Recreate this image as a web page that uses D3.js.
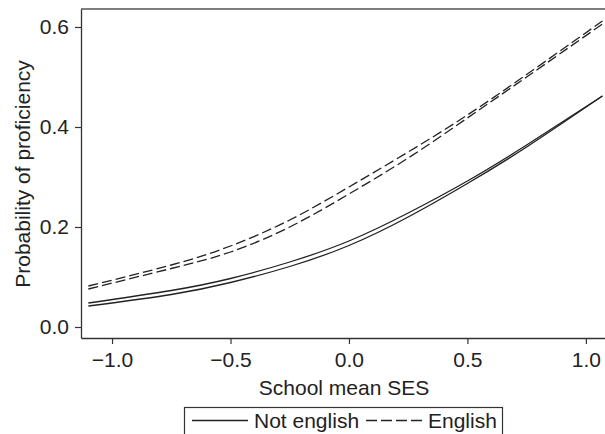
<!DOCTYPE html>
<html>
<head>
<meta charset="utf-8">
<script src="https://cdn.jsdelivr.net/npm/d3@7"></script>
<style>
  body { margin: 0; background: #fff; }
  svg { font-family: "Liberation Sans", Arial, sans-serif; }
</style>
</head>
<body>
<svg></svg>
<script>
const width = 605;
const height = 434;

// school mean SES sample points
const ses = [-1.1, -0.75, -0.5, -0.25, 0, 0.25, 0.5, 0.75, 1.07];
const notEnglishA = [0.048, 0.073, 0.097, 0.130, 0.172, 0.228, 0.292, 0.364, 0.462];
const notEnglishB = [0.042, 0.065, 0.089, 0.121, 0.163, 0.220, 0.287, 0.360, 0.462];
const englishA = [0.082, 0.124, 0.162, 0.214, 0.280, 0.350, 0.424, 0.505, 0.612];
const englishB = [0.076, 0.117, 0.150, 0.200, 0.266, 0.338, 0.418, 0.500, 0.606];

const xTicks = [-1.0, -0.5, 0.0, 0.5, 1.0];
const yTicks = [0.0, 0.2, 0.4, 0.6];

const series = [
    { name: 'Not english', values: notEnglishA, dashed: false },
    { name: 'Not english', values: notEnglishB, dashed: false },
    { name: 'English', values: englishA, dashed: true },
    { name: 'English', values: englishB, dashed: true }
];

const plotLeft = 81, plotRight = 606, plotTop = 9, plotBottom = 338;
const fontSize = '21px';

const xScale = d3.scaleLinear()
    .domain([-1.131, 1.085])
    .range([plotLeft, plotRight]);

const yScale = d3.scaleLinear()
    .domain([-0.022, 0.636])
    .range([plotBottom, plotTop]);

const fmt = d => (d < 0 ? '\u2212' : '') + d3.format('.1f')(Math.abs(d));

const svg = d3.select('svg')
    .attr('width', width)
    .attr('height', height);

// top border
svg.append('line')
    .attr('x1', plotLeft).attr('x2', plotRight)
    .attr('y1', plotTop).attr('y2', plotTop)
    .attr('stroke', '#555').attr('stroke-width', 1.3);

const xAxis = d3.axisBottom(xScale)
    .tickValues(xTicks)
    .tickFormat(fmt)
    .tickSize(6)
    .tickSizeOuter(0)
    .tickPadding(8);

const yAxis = d3.axisLeft(yScale)
    .tickValues(yTicks)
    .tickFormat(fmt)
    .tickSize(6)
    .tickSizeOuter(0)
    .tickPadding(6);

const gx = svg.append('g')
    .attr('transform', 'translate(0,' + plotBottom + ')')
    .call(xAxis);

const gy = svg.append('g')
    .attr('transform', 'translate(' + plotLeft + ',0)')
    .call(yAxis);

[gx, gy].forEach(g => {
    g.select('.domain').attr('stroke', '#333').attr('stroke-width', 1.3);
    g.selectAll('.tick line').attr('stroke', '#333').attr('stroke-width', 1.2);
    g.selectAll('.tick text').attr('fill', '#222').style('font-size', fontSize);
});

const line = d3.line()
    .x((d, i) => xScale(ses[i]))
    .y(d => yScale(d))
    .curve(d3.curveNatural);

svg.selectAll('path.series')
    .data(series)
    .enter()
    .append('path')
    .attr('class', 'series')
    .attr('d', d => line(d.values))
    .attr('fill', 'none')
    .attr('stroke', '#222')
    .attr('stroke-width', 1.3)
    .attr('stroke-dasharray', d => d.dashed ? '10,4' : null);

// axis titles
svg.append('text')
    .attr('x', 344)
    .attr('y', 395)
    .style('text-anchor', 'middle')
    .style('font-size', fontSize)
    .attr('fill', '#222')
    .text('School mean SES');

svg.append('text')
    .attr('transform', 'rotate(-90)')
    .attr('x', -174)
    .attr('y', 30)
    .style('text-anchor', 'middle')
    .style('font-size', fontSize)
    .attr('fill', '#222')
    .text('Probability of proficiency');

// legend
const legend = svg.append('g');
legend.append('rect')
    .attr('x', 184.5).attr('y', 407.5)
    .attr('width', 318).attr('height', 40)
    .attr('fill', 'none')
    .attr('stroke', '#333')
    .attr('stroke-width', 1.2);

const legendItems = [
    { name: 'Not english', dashed: false, x: 192 },
    { name: 'English', dashed: true, x: 366 }
];

legendItems.forEach(d => {
    legend.append('line')
        .attr('x1', d.x).attr('x2', d.x + 56)
        .attr('y1', 420.5).attr('y2', 420.5)
        .attr('stroke', '#222')
        .attr('stroke-width', 1.3)
        .attr('stroke-dasharray', d.dashed ? '11,4' : null);
    legend.append('text')
        .attr('x', d.x + 62)
        .attr('y', 428)
        .style('font-size', fontSize)
        .attr('fill', '#222')
        .text(d.name);
});
</script>
</body>
</html>
